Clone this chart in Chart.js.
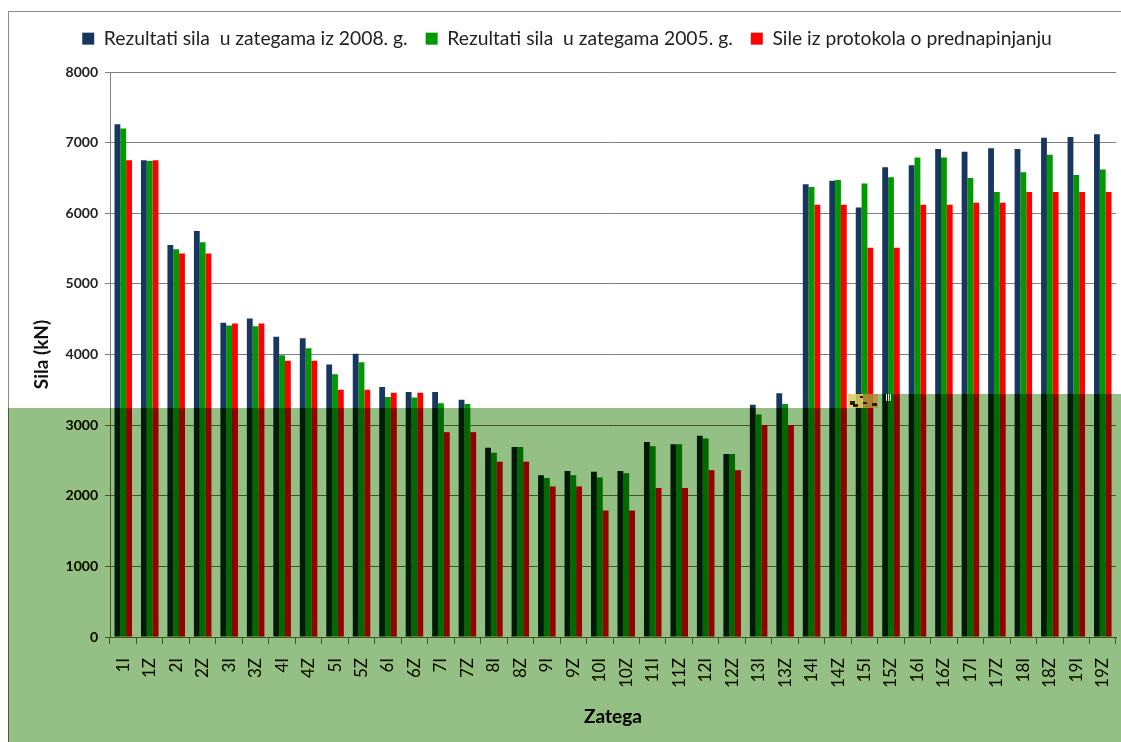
<!DOCTYPE html>
<html><head><meta charset="utf-8">
<style>html,body{margin:0;padding:0;background:#fff}#w{width:1121px;height:742px;position:relative}canvas{display:block}</style>
<script src="https://cdn.jsdelivr.net/npm/chart.js@4"></script>
</head><body><div id="w"><canvas id="c" width="1121" height="742"></canvas></div>
<script>
const categories=["1I","1Z","2I","2Z","3I","3Z","4I","4Z","5I","5Z","6I","6Z","7I","7Z","8I","8Z","9I","9Z","10I","10Z","11I","11Z","12I","12Z","13I","13Z","14I","14Z","15I","15Z","16I","16Z","17I","17Z","18I","18Z","19I","19Z"];
const results2008=[7260,6750,5550,5750,4450,4510,4250,4230,3860,4010,3540,3470,3470,3360,2680,2690,2290,2350,2340,2350,2760,2730,2850,2590,3290,3450,6410,6460,6080,6650,6680,6910,6870,6920,6910,7070,7080,7120];
const results2005=[7200,6740,5490,5590,4410,4400,3990,4090,3720,3890,3400,3390,3310,3300,2610,2690,2250,2290,2260,2320,2700,2730,2810,2590,3150,3300,6370,6470,6420,6510,6790,6790,6500,6300,6580,6830,6540,6620];
const protocol=[6750,6750,5430,5430,4440,4440,3910,3910,3500,3500,3460,3460,2900,2900,2480,2480,2130,2130,1790,1790,2110,2110,2360,2360,3000,3000,6120,6120,5510,5510,6120,6120,6150,6150,6300,6300,6300,6300];
const seriesNames=["Rezultati sila  u zategama iz 2008. g.","Rezultati sila  u zategama 2005. g.","Sile iz protokola o prednapinjanju"];
const seriesColors=["#17375e","#009900","#ff0000"];
const yMax=8000,yStep=1000;
const overlayColor="#94bf85",burnColor="rgb(230,230,171)";
const frame={
  id:"frame",
  beforeLayout(ch){const L=ch.legend;if(L&&!L._patched){L._patched=true;
      const f=L.fit;L.fit=function(){f.call(this);this.height=61;};
      const d=L.draw;L.draw=function(){const g=this.ctx;g.save();g.translate(9,0);d.call(this);g.restore();};}},
  beforeDraw(ch){const g=ch.ctx;g.save();g.fillStyle="#fff";g.fillRect(0,0,1121,742);g.fillStyle="#8c8c8c";g.fillRect(8,11,1113,1);g.fillRect(8,11,1,731);g.restore();},
  afterDraw(ch){const g=ch.ctx;
    const bands=(c)=>{g.fillStyle=c;g.fillRect(8,408,840,334);g.fillRect(848,394,273,348);};
    g.save();g.globalCompositeOperation="color-burn";bands(burnColor);
    g.globalCompositeOperation="multiply";bands(overlayColor);g.restore();
    g.save();
    g.globalAlpha=.85;g.fillStyle="#ecd770";g.fillRect(848,394,15,14);g.fillStyle="#b8923a";g.fillRect(863,394,15,14);
    g.globalAlpha=1;g.fillStyle="#2a1a08";
    [[850,401,5,4],[853,404,3,3],[860,396,3,2],[863,402,4,2],[872,403,5,3],[856,404,2,3]].forEach(r=>g.fillRect(...r));
    g.fillStyle="#e8f0e0";[[886,394,1,7],[888,394,1,7],[890,394,1,7]].forEach(r=>g.fillRect(...r));
    g.restore();}
};
new Chart(document.getElementById("c"),{type:"bar",
 data:{labels:categories,datasets:[results2008,results2005,protocol].map((d,i)=>({label:seriesNames[i],data:d,backgroundColor:seriesColors[i],borderWidth:0,barPercentage:1,categoryPercentage:0.66}))},
 options:{responsive:false,animation:false,
  layout:{padding:{top:11,right:5,left:0,bottom:0}},
  plugins:{tooltip:{enabled:false},
   legend:{position:"top",align:"center",labels:{boxWidth:12,boxHeight:12,padding:18,color:"#222",font:{family:"Lato",size:19.3}}}},
  scales:{
   x:{offset:true,grid:{display:true,offset:true,drawOnChartArea:false,color:"#7f7f7f",tickLength:7},border:{color:"#7f7f7f"},
      ticks:{minRotation:90,maxRotation:90,autoSkip:false,color:"#222",font:{family:"Lato",size:17},padding:14},
      title:{display:true,text:"Zatega",color:"#111",font:{family:"Lato",size:19,weight:"bold"},padding:{top:8,bottom:14}},
      afterFit(s){s.height=105;s.paddingRight=0;s.paddingLeft=0;}},
   y:{min:0,max:yMax,ticks:{stepSize:yStep,color:"#222",font:{family:"Lato",size:14,weight:"bold"},padding:7,callback:v=>String(v)},
      grid:{color:"#7f7f7f",tickLength:5},border:{color:"#7f7f7f"},
      title:{display:true,text:"Sila (kN)",color:"#111",font:{family:"Lato",size:19,weight:"bold"},padding:{top:30,bottom:4}},
      afterFit(s){s.width=110;}}
  }},plugins:[frame]});
</script></body></html>
